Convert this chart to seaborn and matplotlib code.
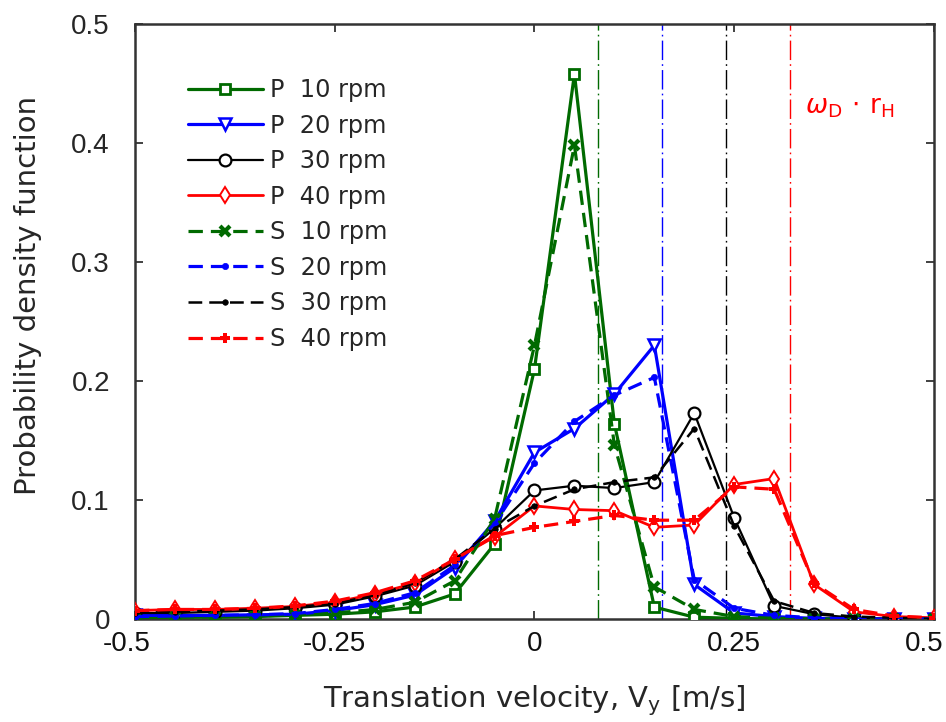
import numpy as np
import pandas as pd
import matplotlib
matplotlib.use("Agg")
import matplotlib.pyplot as plt
from matplotlib.font_manager import FontProperties
import seaborn as sns

# Translation velocity bins [m/s]
velocity = [-0.5, -0.45, -0.4, -0.35, -0.3, -0.25, -0.2, -0.15, -0.1, -0.05,
            0.0, 0.05, 0.1, 0.15, 0.2, 0.25, 0.3, 0.35, 0.4, 0.45, 0.5]

# Probability density, P = measurement, S = simulation
p10 = [0.001, 0.0015, 0.0015, 0.002, 0.003, 0.004, 0.006, 0.010, 0.021, 0.063,
       0.210, 0.458, 0.164, 0.010, 0.0015, 0.0005, 0, 0, 0, 0, 0]
p20 = [0.003, 0.003, 0.003, 0.0035, 0.004, 0.007, 0.012, 0.020, 0.043, 0.082,
       0.140, 0.160, 0.189, 0.230, 0.029, 0.005, 0.002, 0.0005, 0, 0, 0]
p30 = [0.005, 0.005, 0.006, 0.007, 0.009, 0.012, 0.019, 0.028, 0.048, 0.076,
       0.108, 0.112, 0.110, 0.115, 0.173, 0.085, 0.011, 0.004, 0.001, 0, 0]
p40 = [0.007, 0.008, 0.008, 0.009, 0.0105, 0.014, 0.021, 0.030, 0.050, 0.069,
       0.095, 0.092, 0.091, 0.077, 0.079, 0.113, 0.118, 0.029, 0.006, 0.002, 0.001]
s10 = [0.001, 0.0015, 0.002, 0.0025, 0.0035, 0.005, 0.008, 0.014, 0.032, 0.084,
       0.230, 0.398, 0.146, 0.027, 0.008, 0.002, 0.0005, 0, 0, 0, 0]
s20 = [0.002, 0.0025, 0.003, 0.0035, 0.0045, 0.008, 0.013, 0.022, 0.045, 0.080,
       0.131, 0.166, 0.188, 0.203, 0.033, 0.009, 0.003, 0.001, 0, 0, 0]
s30 = [0.005, 0.006, 0.007, 0.008, 0.010, 0.013, 0.020, 0.030, 0.050, 0.076,
       0.095, 0.109, 0.115, 0.119, 0.160, 0.078, 0.015, 0.005, 0.002, 0.001, 0]
s40 = [0.007, 0.008, 0.008, 0.009, 0.011, 0.015, 0.022, 0.032, 0.050, 0.070,
       0.077, 0.082, 0.087, 0.083, 0.083, 0.111, 0.109, 0.030, 0.008, 0.0025, 0.001]

# Disc peripheral speed omega_D * r_H for each rotation rate [m/s]
rim_speed = [0.08, 0.16, 0.24, 0.32]

x_ticks = [-0.5, -0.25, 0, 0.25, 0.5]
x_tick_labels = ["-0.5", "-0.25", "0", "0.25", "0.5"]
y_ticks = [0, 0.1, 0.2, 0.3, 0.4, 0.5]
y_tick_labels = ["0", "0.1", "0.2", "0.3", "0.4", "0.5"]

GREEN = "#006a00"
BLUE = "#0000ff"
BLACK = "#000000"
RED = "#ff0000"

series = [
    ("P  10 rpm", p10, dict(color=GREEN, lw=2.3, ls="-", marker="s", ms=6.5, mew=2.0, mfc="white", mec=GREEN)),
    ("P  20 rpm", p20, dict(color=BLUE, lw=2.3, ls="-", marker="v", ms=9, mew=1.8, mfc="white", mec=BLUE)),
    ("P  30 rpm", p30, dict(color=BLACK, lw=1.6, ls="-", marker="o", ms=8.5, mew=1.6, mfc="white", mec=BLACK)),
    ("P  40 rpm", p40, dict(color=RED, lw=2.0, ls="-", marker="d", ms=8.5, mew=1.4, mfc="white", mec=RED)),
    ("S  10 rpm", s10, dict(color=GREEN, lw=2.3, ls=(0, (4.5, 2.5)), marker="x", ms=6.5, mew=3.0, mfc=GREEN, mec=GREEN)),
    ("S  20 rpm", s20, dict(color=BLUE, lw=2.3, ls=(0, (4.5, 2.5)), marker="o", ms=4.5, mew=0.5, mfc=BLUE, mec=BLUE)),
    ("S  30 rpm", s30, dict(color=BLACK, lw=1.8, ls=(0, (5.5, 2.8)), marker="o", ms=4.0, mew=0.5, mfc=BLACK, mec=BLACK)),
    ("S  40 rpm", s40, dict(color=RED, lw=2.3, ls=(0, (4.5, 2.5)), marker="P", ms=7.5, mew=0.0, mfc=RED, mec=RED)),
]

sns.set_theme(style="white")
plt.rcParams["font.family"] = ["DejaVu Sans"]
plt.rcParams["mathtext.fontset"] = "dejavusans"

fig = plt.figure(figsize=(9.46, 7.22), dpi=100)
ax = fig.add_axes([0.1427, 0.1427, 0.8446, 0.8241])

line_colors = [GREEN, BLUE, BLACK, RED]
for xv, c in zip(rim_speed, line_colors):
    ax.axvline(xv, color=c, lw=1.0, ls=(0, (14, 3, 1.2, 3)), zorder=1)

for label, values, style in series:
    df = pd.DataFrame({"velocity": velocity, "pdf": values})
    sns.lineplot(data=df, x="velocity", y="pdf", ax=ax, label=label,
                 errorbar=None, sort=True, zorder=3, **style)

ax.set_xlim(-0.5, 0.5)
ax.set_ylim(0, 0.5)
ax.set_yticks(y_ticks)
ax.set_yticklabels(y_tick_labels)

tick_font = FontProperties(family="Liberation Sans", size=20)
for lab in ax.get_yticklabels():
    lab.set_fontproperties(tick_font)

# x tick labels are placed as annotations so the outermost ones can be nudged
# inward and stay on the canvas
ax.set_xticks(x_ticks)
ax.set_xticklabels([""] * len(x_ticks))
x_nudge = {0: -6.1, len(x_ticks) - 1: -7.2}
for i, (xv, txt) in enumerate(zip(x_ticks, x_tick_labels)):
    ax.annotate(txt, xy=(xv, 0), xycoords=("data", "axes fraction"),
                xytext=(x_nudge.get(i, 0), -8.5), textcoords="offset points",
                ha="center", va="top", fontproperties=tick_font, color="#111111",
                annotation_clip=False)

ax.tick_params(axis="both", which="major", direction="in", length=6, width=1.3,
               color="#333333", top=True, right=True, bottom=True, left=True)
ax.tick_params(axis="y", pad=18)

for sp in ax.spines.values():
    sp.set_visible(True)
    sp.set_color("#333333")
    sp.set_linewidth(1.8)

ax.set_xlabel("Translation velocity, V$_\\mathregular{y}$ [m/s]", fontsize=21)
ax.xaxis.set_label_coords(0.5, -0.108)
ax.set_ylabel("Probability density function", fontsize=21)
ax.yaxis.set_label_coords(-0.117, 0.543)

ax.text(0.338, 0.43, r"$\omega_{\mathrm{D}}\,\cdot\,\mathrm{r}_{\mathrm{H}}$",
        color=RED, fontsize=19, ha="left", va="center")

leg = ax.legend(loc="upper left", bbox_to_anchor=(0.0545, 0.925), frameon=False,
                fontsize=17.3, handlelength=3.1, handletextpad=0.3,
                labelspacing=0.48, borderaxespad=0.0)

fig.savefig("out.png", dpi=100)
